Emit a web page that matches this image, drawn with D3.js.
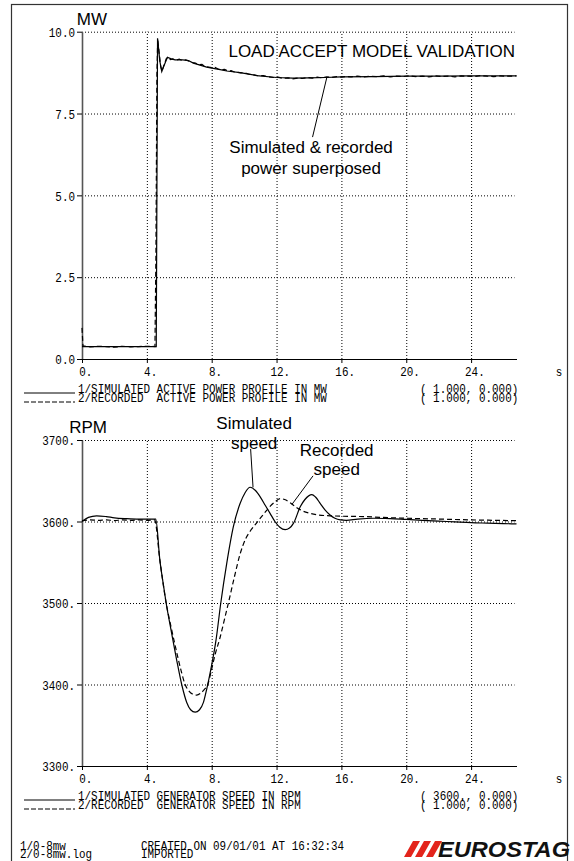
<!DOCTYPE html>
<html>
<head>
<meta charset="utf-8">
<script src="https://cdn.jsdelivr.net/npm/d3@7"></script>
<style>
  html, body { margin: 0; padding: 0; background: #fff; }
  svg { display: block; }
</style>
</head>
<body>
<script>
// ---- Time axis ----
const timeDomain = [0, 26.8];
const timeTicks = [0, 4, 8, 12, 16, 20, 24];

// ---- Active power (MW) ----
const powerTicks = [0, 2.5, 5, 7.5, 10];
const powerSimT  = [0, 4.58, 4.66, 4.8, 4.92, 5.05, 5.27, 5.5, 5.74, 6.2, 6.56, 6.87, 7.28, 7.69, 8.1, 8.52, 8.93, 9.75, 10.78, 12, 13, 14, 15, 16, 18, 20, 22, 24, 26.8];
const powerSimMW = [0.38, 0.38, 9.8, 9.1, 8.78, 8.95, 9.22, 9.17, 9.14, 9.14, 9.12, 9.04, 8.98, 8.92, 8.88, 8.84, 8.80, 8.75, 8.66, 8.60, 8.58, 8.59, 8.60, 8.62, 8.63, 8.64, 8.64, 8.65, 8.65];
const powerRecT  = [0, 0.06, 0.5, 1.0, 1.5, 2.0, 2.5, 3.0, 3.5, 4.0, 4.5, 4.56, 4.62, 4.67, 4.75, 4.85, 4.93, 5.05, 5.2, 5.3, 5.45, 5.6, 5.8, 6.0, 6.2, 6.4, 6.6, 6.8, 7.0, 7.2, 7.4, 7.6, 7.8, 8.0, 8.2, 8.4, 8.6, 8.8, 9.0, 9.2, 9.4, 9.6, 9.8, 10.0, 10.3, 10.6, 10.9, 11.2, 11.5, 11.8, 12.1, 12.4, 12.7, 13.0, 13.3, 13.6, 13.9, 14.2, 14.5, 14.8, 15.1, 15.4, 15.7, 16.0, 16.3, 16.6, 17.0, 17.4, 17.8, 18.2, 18.6, 19.0, 19.4, 19.8, 20.2, 20.6, 21.0, 21.4, 21.8, 22.2, 22.6, 23.0, 23.4, 23.8, 24.2, 24.6, 25.0, 25.4, 25.8, 26.2, 26.8];
const powerRecMW = [0.95, 0.40, 0.37, 0.39, 0.38, 0.36, 0.39, 0.37, 0.38, 0.39, 0.38, 3.2, 8.7, 9.78, 9.4, 8.95, 8.8, 8.97, 9.18, 9.22, 9.15, 9.17, 9.13, 9.16, 9.12, 9.14, 9.1, 9.06, 9.04, 8.99, 9.0, 8.93, 8.92, 8.9, 8.91, 8.86, 8.84, 8.85, 8.8, 8.81, 8.77, 8.76, 8.74, 8.75, 8.7, 8.68, 8.65, 8.66, 8.62, 8.6, 8.61, 8.57, 8.59, 8.56, 8.58, 8.57, 8.6, 8.58, 8.61, 8.59, 8.62, 8.6, 8.63, 8.61, 8.63, 8.62, 8.64, 8.62, 8.64, 8.63, 8.65, 8.62, 8.64, 8.63, 8.65, 8.63, 8.64, 8.62, 8.65, 8.63, 8.64, 8.62, 8.65, 8.64, 8.63, 8.66, 8.64, 8.63, 8.65, 8.64, 8.65];

// ---- Generator speed (RPM) ----
const speedTicks = [3300, 3400, 3500, 3600, 3700];
const speedSimT   = [0, 0.4, 0.9, 1.5, 2.0, 2.75, 3.5, 4.55, 4.8, 5.0, 5.19, 5.5, 5.84, 6.15, 6.46, 6.7, 6.98, 7.25, 7.49, 7.7, 7.94, 8.27, 8.56, 8.93, 9.34, 9.75, 10.05, 10.37, 10.7, 11.0, 11.3, 11.6, 11.9, 12.2, 12.53, 12.8, 13.05, 13.46, 13.75, 14.18, 14.4, 14.7, 15.0, 15.3, 15.6, 15.93, 16.3, 17.0, 18.0, 19.0, 20.0, 21.0, 22.0, 23.0, 24.0, 25.0, 26.0, 26.8];
const speedSimRPM = [3600, 3605, 3607, 3606, 3604.5, 3603.5, 3603, 3603, 3553, 3525, 3500, 3466, 3430, 3400, 3378, 3369, 3366, 3369, 3378, 3395, 3418, 3455, 3500, 3549, 3594, 3622, 3635, 3642, 3638, 3630, 3620, 3610, 3600, 3593, 3590, 3592, 3598, 3618, 3627, 3633, 3630, 3622, 3614, 3608, 3604, 3602, 3601.5, 3603, 3604, 3603.5, 3602.5, 3601.5, 3600.5, 3599.5, 3598.5, 3598, 3597.5, 3597];
const speedRecT   = [0, 0.5, 1.0, 1.5, 2.0, 2.5, 3.0, 3.5, 4.0, 4.48, 4.8, 5.19, 5.5, 5.8, 6.1, 6.36, 6.6, 6.85, 7.08, 7.3, 7.55, 7.76, 7.94, 8.2, 8.52, 8.8, 9.03, 9.4, 9.75, 10.1, 10.37, 10.7, 11.0, 11.3, 11.6, 11.9, 12.22, 12.5, 12.84, 13.25, 13.6, 14.07, 14.6, 15.3, 16.0, 17.4, 18.5, 20.0, 22.0, 24.0, 26.8];
const speedRecRPM = [3601, 3602, 3601.5, 3602, 3601, 3602, 3601.5, 3602, 3601.5, 3602, 3553, 3500, 3470, 3443, 3418, 3400, 3392, 3388, 3387, 3389, 3394, 3400, 3414, 3436, 3458, 3481, 3500, 3532, 3560, 3579, 3588, 3596.5, 3604, 3611.5, 3618.5, 3624, 3628, 3627, 3623, 3617, 3613, 3610, 3608, 3607, 3606.5, 3606, 3605, 3604, 3603, 3602, 3601];

// ---- Legend / footer texts ----
const powerLegend = ["1/SIMULATED ACTIVE POWER PROFILE IN MW", "2/RECORDED  ACTIVE POWER PROFILE IN MW"];
const powerScales = ["( 1.000, 0.000)", "( 1.000, 0.000)"];
const speedLegend = ["1/SIMULATED GENERATOR SPEED IN RPM", "2/RECORDED  GENERATOR SPEED IN RPM"];
const speedScales = ["( 3600., 0.000)", "( 1.000, 0.000)"];
const footerFiles = ["1/0-8mw", "2/0-8mw.log"];
const footerInfo  = ["CREATED ON 09/01/01 AT 16:32:34", "IMPORTED"];

// ---- Page setup ----
const W = 574, H = 861;
const SANS = "'Liberation Sans', Arial, Helvetica, sans-serif";
const MONO = "'Liberation Mono', 'DejaVu Sans Mono', monospace";
const MONO_SIZE = 13;
const SX = 0.84;                         // horizontal squeeze of plotter lettering
const ADV = MONO_SIZE * 0.6 * SX;        // advance per character

const svg = d3.select("body").append("svg")
  .attr("width", W).attr("height", H).attr("viewBox", `0 0 ${W} ${H}`);
svg.append("rect").attr("width", W).attr("height", H).attr("fill", "#fff");

// page frame
svg.append("rect")
  .attr("x", 11.5).attr("y", 4.5).attr("width", 556).attr("height", H + 20)
  .attr("fill", "none").attr("stroke", "#333").attr("stroke-width", 1.2);

// squeezed monospace text, positioned by its unscaled x
function plotText(parent, x, y, str, anchor) {
  return parent.append("text")
    .attr("x", x / SX).attr("y", y)
    .attr("transform", `scale(${SX},1)`)
    .attr("font-family", MONO).attr("font-size", MONO_SIZE)
    .attr("text-anchor", anchor || "start")
    .attr("fill", "#000")
    .style("white-space", "pre")
    .text(str);
}

const PX0 = 82, PX1 = 516.5;

function panel(cfg) {
  const g = svg.append("g");
  const x = d3.scaleLinear().domain(timeDomain).range([PX0, PX1]);
  const y = d3.scaleLinear().domain(cfg.domain).range([cfg.bottom, cfg.top]);

  // dotted grid
  g.append("g").attr("transform", `translate(0,${cfg.bottom})`)
    .call(d3.axisBottom(x).tickValues(timeTicks.filter(d => d > 0))
      .tickSize(-(cfg.bottom - cfg.top)).tickFormat(""))
    .call(s => s.select(".domain").remove())
    .selectAll("line")
      .attr("stroke", "#000").attr("stroke-width", 1).attr("stroke-dasharray", "1,2");
  g.append("g").attr("transform", `translate(${PX0},0)`)
    .call(d3.axisRight(y).tickValues(cfg.ticks.filter(d => d > cfg.domain[0]))
      .tickSize(PX1 - PX0 - 2).tickFormat(""))
    .call(s => s.select(".domain").remove())
    .selectAll("line")
      .attr("stroke", "#000").attr("stroke-width", 1).attr("stroke-dasharray", "1,2");

  // y axis
  const ya = g.append("g").attr("transform", `translate(${PX0},0)`)
    .call(d3.axisLeft(y).tickValues(cfg.ticks).tickSize(5).tickPadding(2)
      .tickSizeOuter(0).tickFormat(cfg.fmt));
  ya.select(".domain").attr("stroke", "#555").attr("stroke-width", 1.6);
  ya.selectAll(".tick line").attr("stroke", "#000");
  ya.selectAll("text")
    .attr("font-family", MONO).attr("font-size", MONO_SIZE).attr("fill", "#000")
    .attr("dy", "0.36em")
    .each(function () {
      const t = d3.select(this);
      t.attr("x", (+t.attr("x")) / SX).attr("transform", `scale(${SX},1)`);
    });

  // x axis
  const xa = g.append("g").attr("transform", `translate(0,${cfg.bottom})`)
    .call(d3.axisBottom(x).tickValues(timeTicks).tickSize(4).tickSizeOuter(0)
      .tickFormat(d => d + "."));
  xa.select(".domain").attr("stroke", "#000").attr("stroke-width", 1.2);
  xa.selectAll(".tick line").attr("stroke", "#000");
  xa.selectAll("text")
    .attr("font-family", MONO).attr("font-size", MONO_SIZE).attr("fill", "#000")
    .attr("text-anchor", "start").attr("dy", 0).attr("y", 17)
    .each(function (d) {
      const digits = String(d).length;
      d3.select(this).attr("x", (-digits * ADV / 2) / SX).attr("transform", `scale(${SX},1)`);
    });
  plotText(g, 559, cfg.bottom + 17, "s", "middle");

  // unit label
  g.append("text").attr("x", 107).attr("y", cfg.top - 7)
    .attr("text-anchor", "end").attr("font-family", SANS).attr("font-size", 17)
    .text(cfg.unit);

  // curves: recorded (dashed) then simulated (solid)
  const line = d3.line().x(d => x(d[0])).y(d => y(d[1])).curve(cfg.curve);
  g.append("path").datum(d3.zip(cfg.recT, cfg.recV))
    .attr("d", line).attr("fill", "none").attr("stroke", "#000")
    .attr("stroke-width", 1.2).attr("stroke-dasharray", "5,3");
  g.append("path").datum(d3.zip(cfg.simT, cfg.simV))
    .attr("d", line).attr("fill", "none").attr("stroke", "#000")
    .attr("stroke-width", 1.2);

  // legend
  const b1 = cfg.bottom + 34, b2 = cfg.bottom + 43;
  g.append("line").attr("x1", 24).attr("x2", 75).attr("y1", b1).attr("y2", b1)
    .attr("stroke", "#000").attr("stroke-width", 1);
  g.append("line").attr("x1", 24).attr("x2", 75).attr("y1", b2).attr("y2", b2)
    .attr("stroke", "#000").attr("stroke-width", 1).attr("stroke-dasharray", "5,2");
  cfg.legend.forEach((s, i) => plotText(g, 78, i ? b2 : b1, s));
  cfg.scales.forEach((s, i) => plotText(g, 420, i ? b2 : b1, s));

  // annotations in data coordinates
  cfg.notes.forEach(n => {
    n.lines.forEach((s, i) => {
      g.append("text").attr("x", x(n.at[0])).attr("y", y(n.at[1]) + i * n.lead)
        .attr("text-anchor", "middle").attr("font-family", SANS).attr("font-size", 17)
        .attr("fill", "#000").text(s);
    });
    g.append("line")
      .attr("x1", x(n.from[0])).attr("y1", y(n.from[1]))
      .attr("x2", x(n.to[0])).attr("y2", y(n.to[1]))
      .attr("stroke", "#000").attr("stroke-width", 1);
  });
  return { g, x, y };
}

// Active power panel
const powerPanel = panel({
  domain: [0, 10], top: 31.7, bottom: 359, ticks: powerTicks,
  fmt: d3.format(".1f"), unit: "MW", curve: d3.curveLinear,
  simT: powerSimT, simV: powerSimMW, recT: powerRecT, recV: powerRecMW,
  legend: powerLegend, scales: powerScales,
  notes: [
    { lines: ["Simulated & recorded", "power superposed"], at: [14.13, 6.29], lead: 21,
      from: [14.22, 6.78], to: [15.1, 8.6] }
  ]
});
powerPanel.g.append("text").attr("x", 515).attr("y", 57).attr("text-anchor", "end")
  .attr("font-family", SANS).attr("font-size", 17).attr("fill", "#000")
  .text("LOAD ACCEPT MODEL VALIDATION");

// Generator speed panel
const speedPanel = panel({
  domain: [3300, 3700], top: 440, bottom: 766, ticks: speedTicks,
  fmt: d => d + ".", unit: "RPM", curve: d3.curveMonotoneX,
  simT: speedSimT, simV: speedSimRPM, recT: speedRecT, recV: speedRecRPM,
  legend: speedLegend, scales: speedScales,
  notes: [
    { lines: ["Simulated", "speed"], at: [10.62, 3714], lead: 20.5,
      from: [10.4, 3689], to: [10.55, 3642] },
    { lines: ["Recorded", "speed"], at: [15.71, 3680], lead: 19,
      from: [14.25, 3656], to: [12.95, 3621] }
  ]
});

// footer
const F1 = 850, F2 = 858;
footerFiles.forEach((s, i) => plotText(svg, 20, i ? F2 : F1, s));
footerInfo.forEach((s, i) => plotText(svg, 141, i ? F2 : F1, s));

// logo: three slanted red bars and italic wordmark
const logo = svg.append("g");
const LB = 857, LH = 16;
[0, 1, 2].forEach(i => {
  const bx = 404 + i * 11;
  logo.append("polygon")
    .attr("points", [[bx, LB], [bx + 7, LB], [bx + 7 + 9, LB - LH], [bx + 9, LB - LH]].map(p => p.join(",")).join(" "))
    .attr("fill", "#e3241b");
});
logo.append("text").attr("x", 438).attr("y", LB)
  .attr("font-family", SANS).attr("font-size", 22).attr("font-weight", "bold")
  .attr("font-style", "italic").attr("fill", "#111")
  .attr("textLength", 132).attr("lengthAdjust", "spacingAndGlyphs")
  .text("EUROSTAG");
</script>
</body>
</html>
